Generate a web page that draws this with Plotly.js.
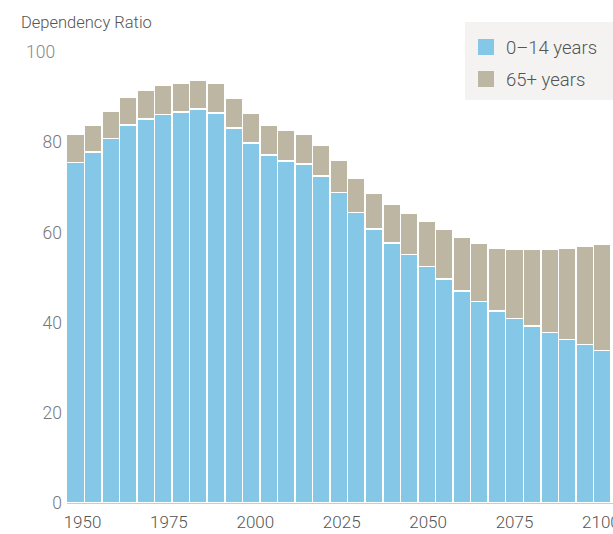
<!DOCTYPE html>
<html>
<head>
<meta charset="utf-8">
<script src="https://cdn.plot.ly/plotly-3.0.1.min.js"></script>
<style>
  html, body { margin: 0; padding: 0; background: #ffffff; }
  #chart { width: 613px; height: 534px; }
</style>
</head>
<body>
<div id="chart"></div>
<script>
// Years (5-year steps)
const years = [1950, 1955, 1960, 1965, 1970, 1975, 1980, 1985, 1990, 1995,
               2000, 2005, 2010, 2015, 2020, 2025, 2030, 2035, 2040, 2045,
               2050, 2055, 2060, 2065, 2070, 2075, 2080, 2085, 2090, 2095, 2100];

// Young-age dependency ratio (0–14 years)
const youngRatio = [75.5, 77.8, 80.8, 83.8, 85.1, 86.1, 86.7, 87.4, 86.5, 83.2,
                    79.8, 77.2, 75.8, 75.2, 72.5, 68.8, 64.4, 60.8, 57.7, 55.1,
                    52.4, 49.7, 47.0, 44.7, 42.6, 40.9, 39.2, 37.8, 36.3, 35.1, 33.8];

// Total dependency ratio (top of each stacked bar)
const totalRatio = [81.7, 83.7, 86.8, 89.9, 91.5, 92.6, 93.0, 93.7, 93.0, 89.7,
                    86.4, 83.7, 82.6, 81.7, 79.3, 76.0, 72.0, 68.6, 66.2, 64.2,
                    62.4, 60.7, 58.9, 57.6, 56.5, 56.2, 56.2, 56.2, 56.5, 56.9, 57.3];

// Old-age dependency ratio (65+ years)
const oldRatio = totalRatio.map((t, i) => +(t - youngRatio[i]).toFixed(1));

const tickYears = [1950, 1975, 2000, 2025, 2050, 2075, 2100];
const tickLabels = tickYears.map(String);
const yTicks = [0, 20, 40, 60, 80];

const seriesNames = ['0\u201314 years', '65+ years'];
const colors = ['#84c7e7', '#bdb6a2'];

const font = { family: 'Roboto, "Liberation Sans", sans-serif', weight: 300 };

const traces = [
  {
    type: 'bar', x: years, y: youngRatio, name: seriesNames[0],
    showlegend: false,
    marker: { color: colors[0], line: { color: '#ffffff', width: 1.5 } },
    hoverinfo: 'skip'
  },
  {
    type: 'bar', x: years, y: oldRatio, name: seriesNames[1],
    showlegend: false,
    marker: { color: colors[1], line: { color: '#ffffff', width: 1.5 } },
    hoverinfo: 'skip'
  },
  // legend entries (square swatches)
  {
    type: 'scatter', mode: 'markers', x: [null], y: [null],
    name: seriesNames[0], legendgroup: 'a',
    marker: { symbol: 'square', size: 16, color: colors[0] },
    hoverinfo: 'skip'
  },
  {
    type: 'scatter', mode: 'markers', x: [null], y: [null],
    name: seriesNames[1], legendgroup: 'b',
    marker: { symbol: 'square', size: 16, color: colors[1] },
    hoverinfo: 'skip'
  }
];

const layout = {
  width: 613, height: 534,
  margin: { l: 67, r: 0, t: 52, b: 31, pad: 0 },
  paper_bgcolor: '#ffffff', plot_bgcolor: '#ffffff',
  barmode: 'stack', bargap: 0,
  font: Object.assign({ size: 16, color: '#777777' }, font),
  title: {
    text: 'Dependency Ratio',
    xref: 'container', yref: 'container',
    x: 21 / 613, xanchor: 'left',
    y: 1 - 22 / 534, yanchor: 'middle',
    font: Object.assign({ size: 16.5, color: '#555555' }, font)
  },
  xaxis: {
    range: [1947.58, 2103.05],
    tickvals: tickYears.map((y, i) => 1952 + i * 24.6),
    ticktext: tickLabels,
    ticks: '', showgrid: false, zeroline: false,
    showline: true, linecolor: '#cccccc', linewidth: 1,
    tickfont: Object.assign({ size: 17, color: '#555555' }, font),
    ticklabelstandoff: 4,
    ticklabeloverflow: 'allow',
    fixedrange: true
  },
  yaxis: {
    range: [0, 100],
    tickvals: yTicks,
    ticktext: yTicks.map(String),
    ticks: '', showgrid: false, zeroline: false, showline: false,
    tickfont: Object.assign({ size: 17.5, color: '#777777' }, font),
    ticklabelstandoff: 4,
    fixedrange: true
  },
  showlegend: true,
  legend: {
    x: (466 - 67) / 546, xanchor: 'left',
    y: 1.052, yanchor: 'top',
    bgcolor: 'rgba(0,0,0,0)',
    traceorder: 'grouped',
    tracegroupgap: 5,
    itemsizing: 'trace',
    font: Object.assign({ size: 18.5, color: '#555555' }, font)
  },
  shapes: [
    {
      type: 'rect', xref: 'paper', yref: 'paper', layer: 'below',
      x0: (465 - 67) / 546, x1: 1.0,
      y0: 1 + (52 - 100) / 451, y1: 1 + (52 - 22) / 451,
      fillcolor: '#f4f3f1', line: { width: 0 }
    }
  ],
  annotations: [
    {
      text: '100', xref: 'paper', yref: 'y',
      x: (24 - 67) / 546, xanchor: 'left',
      y: 100, yanchor: 'middle',
      showarrow: false,
      font: Object.assign({ size: 17.5, color: '#888888' }, font)
    }
  ]
};

Plotly.newPlot('chart', traces, layout, { staticPlot: true, displayModeBar: false });
</script>
</body>
</html>
